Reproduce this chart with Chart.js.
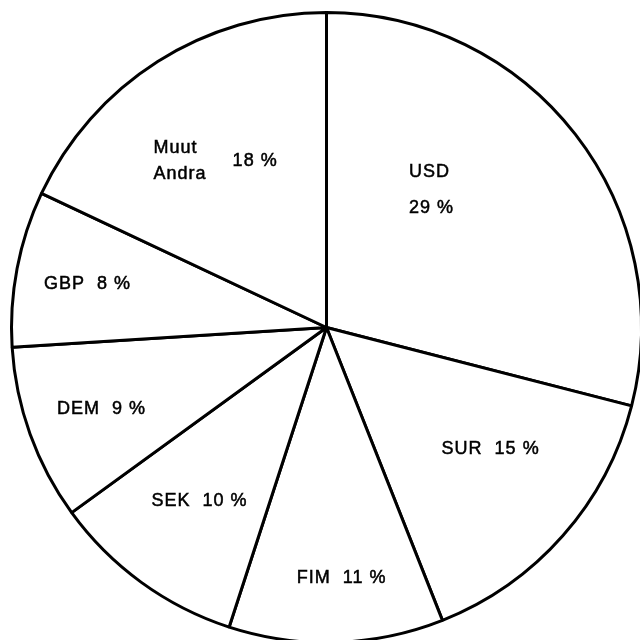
<!DOCTYPE html>
<html>
<head>
<meta charset="utf-8">
<script src="https://cdn.jsdelivr.net/npm/chart.js@4.4.1/dist/chart.umd.min.js"></script>
<style>
  html, body { margin: 0; padding: 0; background: #fff; overflow: hidden; }
  #wrap { position: absolute; left: 0; top: 0; }
</style>
</head>
<body>
<div id="wrap"><canvas id="chart" width="660" height="660"></canvas></div>
<script>
// currency shares, clockwise from 12 o'clock
const currencies = ['USD', 'SUR', 'FIM', 'SEK', 'DEM', 'GBP', 'Muut\nAndra']
const shares = [29, 15, 11, 10, 9, 8, 18]

// where each label block sits, as a fraction of the radius from the centre
const labelPos = [
  [0.333, -0.432], [0.521, 0.387], [0.048, 0.794], [-0.403, 0.552],
  [-0.714, 0.260], [-0.759, -0.137], [-0.352, -0.530]
]
const labelMode = ['stack', 'inline', 'inline', 'inline', 'inline', 'inline', 'side']

const pieLabels = {
  id: 'pieLabels',
  afterDatasetsDraw(chart) {
    const arc = chart.getDatasetMeta(0).data[0]
    const { x: cx, y: cy, outerRadius: r } = arc.getProps(['x', 'y', 'outerRadius'], true)
    const ctx = chart.ctx
    ctx.save()
    ctx.fillStyle = '#000'
    ctx.strokeStyle = '#000'
    ctx.lineWidth = 0.5
    ctx.font = '18px "Liberation Sans", Arial, sans-serif'
    ctx.letterSpacing = '1px'
    ctx.textBaseline = 'middle'
    const put = (t, x, y) => { ctx.fillText(t, x, y); ctx.strokeText(t, x, y) }
    currencies.forEach((name, i) => {
      const x = cx + labelPos[i][0] * r
      const y = cy + labelPos[i][1] * r
      const pct = shares[i] + ' %'
      const mode = labelMode[i]
      if (mode === 'inline') {
        ctx.textAlign = 'center'
        put(name + '  ' + pct, x, y)
      } else if (mode === 'stack') {
        ctx.textAlign = 'left'
        const w = Math.max(ctx.measureText(name).width, ctx.measureText(pct).width)
        put(name, x - w / 2, y - 19)
        put(pct, x - w / 2, y + 17)
      } else {
        const lines = name.split('\n')
        const nw = Math.max(...lines.map(l => ctx.measureText(l).width))
        const pw = ctx.measureText(pct).width
        const gap = 26
        const left = x - (nw + gap + pw) / 2
        ctx.textAlign = 'left'
        lines.forEach((l, k) => put(l, left, y - 13 + k * 26))
        put(pct, left + nw + gap, y)
      }
    })
    ctx.restore()
  }
}

new Chart(document.getElementById('chart'), {
  type: 'pie',
  data: {
    labels: currencies,
    datasets: [{
      data: shares,
      backgroundColor: '#ffffff',
      borderColor: '#000000',
      borderWidth: 3,
      hoverOffset: 0
    }]
  },
  options: {
    responsive: false,
    animation: false,
    layout: { padding: { left: 10, top: 11, right: 17, bottom: 16 } },
    plugins: {
      legend: { display: false },
      tooltip: { enabled: false }
    }
  },
  plugins: [pieLabels]
})
</script>
</body>
</html>
